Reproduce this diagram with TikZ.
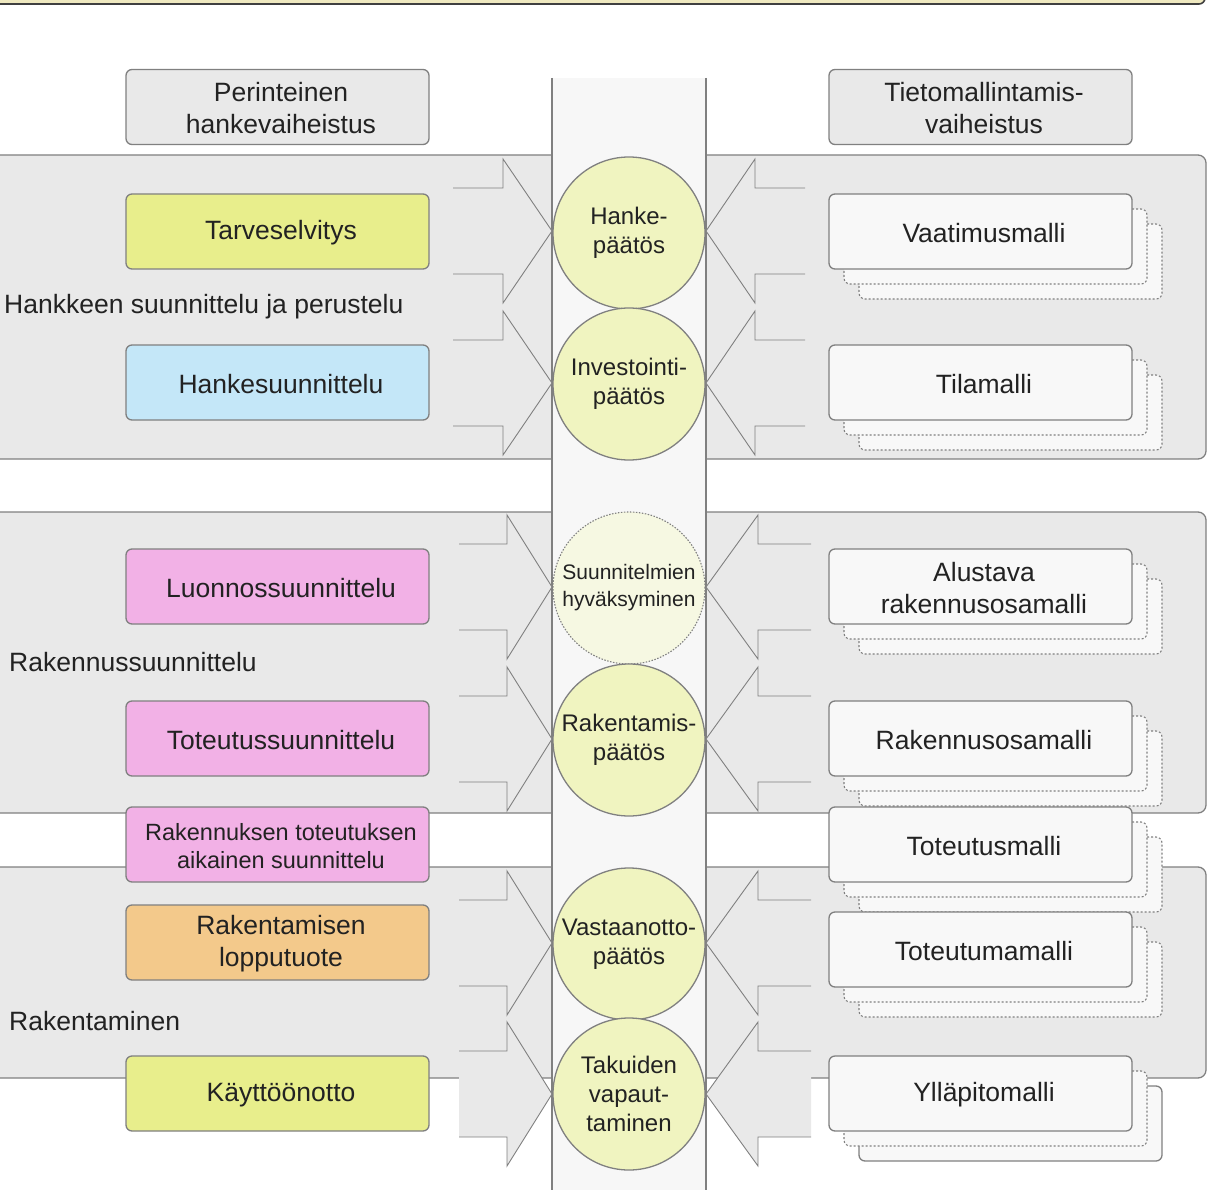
\documentclass[tikz,border=0pt]{standalone}
\usepackage{fontspec}
\setmainfont{Liberation Sans}
\definecolor{bandfill}{HTML}{E9E9E9}
\definecolor{linegray}{HTML}{808080}
\definecolor{colfill}{HTML}{F7F7F7}
\definecolor{circfill}{HTML}{F0F4C0}
\definecolor{circpale}{HTML}{F6F8E2}
\definecolor{yellowg}{HTML}{E8EE8C}
\definecolor{lblue}{HTML}{C4E7F8}
\definecolor{lpink}{HTML}{F2B1E6}
\definecolor{lorange}{HTML}{F3C98B}
\definecolor{boxwhite}{HTML}{F8F8F8}
\definecolor{headgray}{HTML}{E9E9E9}
\definecolor{txt}{HTML}{222222}
\definecolor{stripfill}{HTML}{EFE9C0}
\begin{document}
\begin{tikzpicture}[x=1pt,y=-1pt,
  band/.style={fill=bandfill,draw=linegray,line width=1.3pt,rounded corners=8pt},
  arrowshape/.style={fill=bandfill,draw=linegray,line width=0.9pt},
  box/.style={draw=linegray,line width=1.3pt,rounded corners=6pt,minimum width=303pt,minimum height=75pt,inner sep=0pt},
  boxtext/.style={inner sep=0pt,align=center,text=txt,xshift=3.5pt,yshift=-1.5pt,font=\fontsize{26.5}{32}\selectfont},
  smalltext/.style={boxtext,font=\fontsize{23.5}{28.5}\selectfont},
  shadowbox/.style={fill=boxwhite,draw=linegray,line width=1.1pt,dash pattern=on 2pt off 2pt,rounded corners=6pt},
  shadowsolid/.style={fill=boxwhite,draw=linegray,line width=1.3pt,rounded corners=6pt},
  decision/.style={circle,minimum size=152pt,inner sep=0pt,fill=circfill,draw=linegray,line width=1.3pt,align=center,text=txt,font=\fontsize{24}{29}\selectfont},
  bandlabel/.style={anchor=west,inner sep=0pt,text=txt,font=\fontsize{26.5}{32}\selectfont}
]
\useasboundingbox (0,0) rectangle (1207,1190);
\clip (0,0) rectangle (1207,1190);
% top strip
\draw[fill=stripfill,draw=black!75,line width=1.6pt,rounded corners=6pt] (-20,-40) rectangle (1205,4);
% bands
\draw[band] (-20,155) rectangle (1206,459);
\draw[band] (-20,512) rectangle (1206,813);
\draw[band] (-20,867) rectangle (1206,1078);
% central column
\fill[colfill] (552,78) rectangle (706,1200);
\draw[linegray,line width=1.1pt] (552,78) -- (552,1200);
\draw[linegray,line width=1.1pt] (706,78) -- (706,1200);
% arrows
\foreach \y/\xs/\xb/\xe/\xr in {231/453/503/805/755, 383/453/503/805/755, 587/459/507/811/758, 739/459/507/811/758, 943/459/507/811/758, 1094/459/507/811/758}{
  \filldraw[arrowshape] ({\xs},{\y-43}) -- ({\xb},{\y-43}) -- ({\xb},{\y-72}) -- (552,{\y}) -- ({\xb},{\y+72}) -- ({\xb},{\y+43}) -- ({\xs},{\y+43});
  \filldraw[arrowshape] ({\xe},{\y-43}) -- ({\xr},{\y-43}) -- ({\xr},{\y-72}) -- (706,{\y}) -- ({\xr},{\y+72}) -- ({\xr},{\y+43}) -- ({\xe},{\y+43});
}
% decision circles
\node[decision] (d1) at (629,233) {Hanke-\\päätös};
\node[decision] (d2) at (629,384) {Investointi-\\päätös};
\node[decision,fill=circpale,dash pattern=on 1.5pt off 1.5pt,line width=1.1pt,font=\fontsize{21}{27}\selectfont] (d3) at (629,588) {Suunnitelmien\\hyväksyminen};
\node[decision] (d4) at (629,740) {Rakentamis-\\päätös};
\node[decision] (d5) at (629,944) {Vastaanotto-\\päätös};
\node[decision] (d6) at (629,1094) {Takuiden\\vapaut-\\taminen};
% headers
\node[box,fill=headgray,label={[boxtext]center:{Perinteinen\\hankevaiheistus}}] (h1) at (277.5,107) {};
\node[box,fill=headgray,label={[boxtext]center:{Tietomallintamis-\\vaiheistus}}] (h2) at (980.5,107) {};
% band labels
\node[bandlabel] (b1) at (4,307) {Hankkeen suunnittelu ja perustelu};
\node[bandlabel] (b2) at (9,662) {Rakennussuunnittelu};
\node[bandlabel] (b3) at (9,1021) {Rakentaminen};
% left phase boxes
\node[box,fill=yellowg,label={[boxtext]center:{Tarveselvitys}}] (l1) at (277.5,231.5) {};
\node[box,fill=lblue,label={[boxtext]center:{Hankesuunnittelu}}] (l2) at (277.5,382.5) {};
\node[box,fill=lpink,label={[boxtext]center:{Luonnossuunnittelu}}] (l3) at (277.5,586.5) {};
\node[box,fill=lpink,label={[boxtext]center:{Toteutussuunnittelu}}] (l4) at (277.5,738.5) {};
\node[box,fill=lpink,label={[smalltext]center:{Rakennuksen toteutuksen\\aikainen suunnittelu}}] (l5) at (277.5,844.5) {};
\node[box,fill=lorange,label={[boxtext]center:{Rakentamisen\\lopputuote}}] (l6) at (277.5,942.5) {};
\node[box,fill=yellowg,label={[boxtext]center:{Käyttöönotto}}] (l7) at (277.5,1093.5) {};
% right model boxes with stacked copies
\foreach \n/\y/\t/\st in {r1/231.5/Vaatimusmalli/shadowbox, r2/382.5/Tilamalli/shadowbox, r3/586.5/{Alustava\\rakennusosamalli}/shadowbox, r4/738.5/Rakennusosamalli/shadowbox, r5/844.5/Toteutusmalli/shadowbox, r6/949.5/Toteutumamalli/shadowbox, r7/1093.5/Ylläpitomalli/shadowsolid}{
  \draw[\st] (859,{\y-7.5}) rectangle (1162,{\y+67.5});
  \draw[shadowbox] (844,{\y-22.5}) rectangle (1147,{\y+52.5});
  \node[box,fill=boxwhite,label={[boxtext]center:{\t}}] (\n) at (980.5,\y) {};
}
\end{tikzpicture}
\end{document}
